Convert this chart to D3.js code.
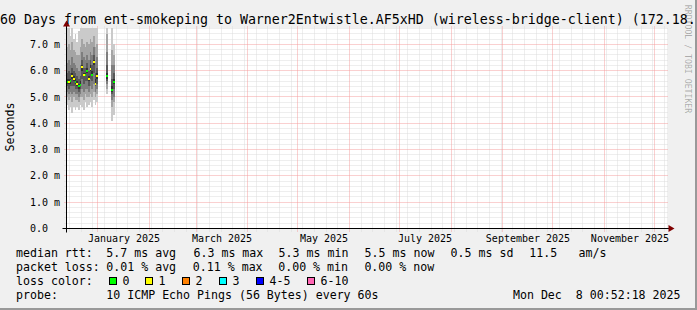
<!DOCTYPE html>
<html>
<head>
<meta charset="utf-8">
<script src="https://cdn.jsdelivr.net/npm/d3@7"></script>
<style>
  html, body { margin: 0; padding: 0; background: #f0f0f0; }
  svg { display: block; font-family: "DejaVu Sans Mono", monospace; }
  text { white-space: pre; }
</style>
</head>
<body>
<svg id="chart" width="697" height="310"></svg>
<script>
// SmokePing 360-day graph, rebuilt with d3

const titleText = '60 Days from ent-smokeping to Warner2Entwistle.AF5xHD (wireless-bridge-client) (172.18.';
const yTitle = 'Seconds';
const watermark = 'RRDTOOL / TOBI OETIKER';

// daily consolidated values (ms)
const days = [
  '2024-12-13', '2024-12-14', '2024-12-15', '2024-12-16', '2024-12-17', '2024-12-18',
  '2024-12-19', '2024-12-20', '2024-12-21', '2024-12-22', '2024-12-23', '2024-12-24',
  '2024-12-25', '2024-12-26', '2024-12-27', '2024-12-28', '2024-12-29', '2024-12-30',
  '2024-12-31', '2025-01-06', '2025-01-09', '2025-01-10'
];
const medians = [
  5.58, 5.56, 5.59, 5.78, 5.70, 5.56, 5.50, 5.41, 5.46, 6.13, 5.84,
  5.82, 6.00, 5.69, 6.07, 5.85, 6.33, 5.50, 5.78, 5.78, 5.28, 5.56
];
// index into lossLabels
const lossBin = [0, 1, 0, 1, 1, 0, 1, 0, 0, 1, 1, 0, 0, 1, 1, 0, 1, 1, 1, 0, 0, 0];
// 10 sorted pings per day
const pings = [
  [4.7, 5.0, 5.2, 5.4, 5.5, 5.7, 5.9, 6.3, 6.9, 8.0],
  [4.5, 4.9, 5.1, 5.3, 5.5, 5.7, 6.0, 6.4, 7.0, 7.9],
  [4.6, 5.0, 5.2, 5.4, 5.5, 5.7, 5.9, 6.2, 6.8, 7.3],
  [4.4, 4.8, 5.1, 5.4, 5.7, 5.9, 6.1, 6.5, 7.1, 8.1],
  [4.6, 5.0, 5.2, 5.4, 5.6, 5.8, 6.0, 6.3, 6.8, 7.2],
  [4.5, 4.9, 5.1, 5.3, 5.5, 5.7, 5.9, 6.2, 6.7, 7.4],
  [4.6, 4.9, 5.1, 5.3, 5.4, 5.6, 5.8, 6.1, 6.6, 7.1],
  [4.5, 4.8, 5.0, 5.2, 5.3, 5.5, 5.7, 6.0, 6.6, 7.5],
  [4.7, 5.0, 5.1, 5.3, 5.4, 5.6, 5.8, 6.2, 6.9, 8.0],
  [4.6, 5.0, 5.3, 5.7, 6.0, 6.2, 6.4, 6.7, 7.2, 8.2],
  [4.5, 4.9, 5.2, 5.5, 5.8, 5.9, 6.1, 6.5, 7.0, 7.9],
  [4.8, 5.1, 5.3, 5.6, 5.8, 5.9, 6.1, 6.4, 6.9, 8.1],
  [4.6, 5.0, 5.3, 5.6, 5.9, 6.1, 6.3, 6.6, 7.1, 8.3],
  [4.7, 5.0, 5.2, 5.4, 5.6, 5.8, 6.0, 6.4, 7.0, 8.0],
  [4.8, 5.1, 5.4, 5.7, 6.0, 6.2, 6.4, 6.7, 7.2, 8.2],
  [4.6, 5.0, 5.3, 5.6, 5.8, 6.0, 6.2, 6.6, 7.1, 8.0],
  [4.9, 5.2, 5.5, 5.9, 6.2, 6.4, 6.6, 6.9, 7.3, 8.4],
  [4.7, 5.0, 5.2, 5.4, 5.5, 5.7, 5.9, 6.3, 6.9, 8.1],
  [4.8, 5.1, 5.3, 5.5, 5.7, 5.9, 6.1, 6.5, 7.0, 7.8],
  [5.1, 5.3, 5.5, 5.6, 5.7, 5.9, 6.2, 6.7, 7.4, 8.3],
  [4.1, 4.6, 4.9, 5.1, 5.2, 5.4, 5.7, 6.2, 6.8, 7.9],
  [4.3, 4.8, 5.0, 5.3, 5.5, 5.7, 5.9, 6.2, 6.6, 7.0]
];

const lossLabels = ['0', '1', '2', '3', '4-5', '6-10'];
const lossColors = ['#00ff00', '#ffff00', '#ff8000', '#00ffff', '#0000ff', '#ff66b4'];
const smokeGreys = ['#cacaca', '#a4a4a4', '#7e7e7e', '#585858', '#323232'];

const rttStats = ['5.7 ms avg', '6.3 ms max', '5.3 ms min', '5.5 ms now', '0.5 ms sd'];
const amStats = ['11.5', 'am/s'];
const lossStats = ['0.01 % avg', '0.11 % max', '0.00 % min', '0.00 % now'];
const probeText = '10 ICMP Echo Pings (56 Bytes) every 60s';
const stampText = 'Mon Dec  8 00:52:18 2025';

// ---- layout
const W = 697, H = 310;
const X0 = 66.5, X1 = 666.5, Y0 = 228.5, Y1 = 28.5;
const t0 = new Date(2024, 11, 13, 4);
const t1 = d3.timeDay.offset(t0, 360);

const x = d3.scaleTime().domain([t0, t1]).range([X0, X1]);
const y = d3.scaleLinear().domain([0, 7.6]).range([Y0, Y1]);
const px = v => Math.floor(v) + 0.5;

const GRID = '#dcdcdc';
const MGRID = '#f5a0a0';

const svg = d3.select('#chart');
svg.append('rect').attr('width', W).attr('height', H).attr('fill', '#f0f0f0');
// 3d frame, bottom/right
svg.append('rect').attr('x', 0).attr('y', H - 2).attr('width', W).attr('height', 2).attr('fill', '#999');
svg.append('rect').attr('x', W - 2).attr('y', 0).attr('width', 2).attr('height', H).attr('fill', '#999');

// canvas
svg.append('rect')
  .attr('x', 67).attr('y', 28).attr('width', 600).attr('height', 200)
  .attr('fill', '#fff');

// ---- grid
const grid = svg.append('g').attr('stroke-width', 1).attr('fill', 'none');

const yMinor = y.ticks(38).filter(v => Math.abs(v - Math.round(v)) > 1e-6);
const yMajor = y.ticks(8).filter(v => v > 0);
const months = d3.timeMonth.range(t0, t1);
const weeks = d3.timeSunday.range(t0, t1).filter(d => d.getDate() !== 1);

const hline = (v, col) => grid.append('line')
  .attr('x1', X0 - 2).attr('x2', X1 + 2)
  .attr('y1', px(y(v))).attr('y2', px(y(v)))
  .attr('stroke', col).attr('stroke-dasharray', '1 1');
const vline = (t, col) => grid.append('line')
  .attr('x1', px(x(t))).attr('x2', px(x(t)))
  .attr('y1', Y1 - 2).attr('y2', Y0 + 3)
  .attr('stroke', col).attr('stroke-dasharray', '1 1');

yMinor.forEach(v => hline(v, GRID));
weeks.forEach(t => vline(t, GRID));
yMajor.forEach(v => hline(v, MGRID));
months.forEach(t => vline(t, MGRID));

// ---- smoke + median
svg.append('clipPath').attr('id', 'plot')
  .append('rect').attr('x', 67).attr('y', 28).attr('width', 600).attr('height', 200);

const parse = d3.timeParse('%Y-%m-%d');
const points = days.map((d, i) => ({
  t: parse(d), med: medians[i], loss: lossBin[i], p: pings[i]
}));

const plot = svg.append('g').attr('clip-path', 'url(#plot)').attr('shape-rendering', 'crispEdges');

const smoke = [];
points.forEach(pt => {
  smokeGreys.forEach((c, b) => smoke.push({ t: pt.t, lo: pt.p[b], hi: pt.p[9 - b], color: c }));
});

plot.selectAll('rect.smoke').data(smoke).join('rect')
  .attr('class', 'smoke')
  .attr('x', d => x(d.t))
  .attr('width', d => x(d3.timeDay.offset(d.t, 1)) - x(d.t))
  .attr('y', d => y(d.hi))
  .attr('height', d => y(d.lo) - y(d.hi))
  .attr('fill', d => d.color);

const sw = 7.6 / 200;
plot.selectAll('rect.med').data(points).join('rect')
  .attr('class', 'med')
  .attr('x', d => x(d.t))
  .attr('width', d => x(d3.timeDay.offset(d.t, 1)) - x(d.t))
  .attr('y', d => y(d.med + sw))
  .attr('height', d => y(d.med - sw) - y(d.med + sw))
  .attr('fill', d => lossColors[d.loss]);

// ---- axes
const axis = svg.append('g').attr('stroke', '#000').attr('stroke-width', 1);
axis.append('line').attr('x1', X0 - 4).attr('x2', X1 + 4).attr('y1', Y0).attr('y2', Y0);
axis.append('line').attr('x1', X0).attr('x2', X0).attr('y1', Y0 + 4).attr('y2', Y1 - 4);
svg.append('path')
  .attr('d', `M${X1 + 2},${Y0 - 3.5}L${X1 + 2},${Y0 + 3.5}L${X1 + 8},${Y0}Z`)
  .attr('fill', '#800000');
svg.append('path')
  .attr('d', `M${X0 - 3.5},${Y1 - 2}L${X0 + 3.5},${Y1 - 2}L${X0},${Y1 - 8}Z`)
  .attr('fill', '#800000');

// y labels
svg.selectAll('text.ylab').data(y.ticks(8)).join('text')
  .attr('class', 'ylab')
  .attr('x', 30).attr('y', d => Math.round(y(d) + 3.6))
  .attr('font-size', 10).attr('fill', '#000')
  .text(d => d === 0 ? '0.0' : d.toFixed(1) + ' m');

// x labels, centred on the month
const labelMonths = d3.timeMonth.every(2).range(t0, t1);
const fmt = d3.timeFormat('%B %Y');
svg.selectAll('text.xlab').data(labelMonths).join('text')
  .attr('class', 'xlab')
  .attr('x', d => Math.round((x(d) + x(d3.timeMonth.offset(d, 1))) / 2))
  .attr('y', 242)
  .attr('text-anchor', 'middle')
  .attr('font-size', 10).attr('fill', '#000')
  .text(d => fmt(d));

// titles
svg.append('text').attr('x', 0).attr('y', 24)
  .attr('font-size', 13.29).attr('fill', '#000')
  .text(titleText);
svg.append('text')
  .attr('transform', 'translate(14,127) rotate(-90)')
  .attr('text-anchor', 'middle')
  .attr('font-size', 11.6).attr('fill', '#000')
  .text(yTitle);
svg.append('text')
  .attr('transform', 'translate(685,59) rotate(90)')
  .attr('text-anchor', 'middle')
  .attr('font-size', 8.2).attr('fill', '#000').attr('fill-opacity', 0.3)
  .text(watermark);

// ---- legend
const LF = 11.6;
const rows = [257, 271, 285, 299];
const legend = svg.append('g').attr('font-size', LF).attr('fill', '#000');
const put = (tx, xx, yy, anchor) => legend.append('text')
  .attr('x', xx).attr('y', yy).attr('text-anchor', anchor || 'start').text(tx);

put('median rtt:', 16, rows[0]);
[106.3, 193.5, 278.6, 364.6, 450.6].forEach((xx, i) => put(rttStats[i], xx, rows[0]));
[529.3, 578.6].forEach((xx, i) => put(amStats[i], xx, rows[0]));

put('packet loss:', 16, rows[1]);
[106.3, 192.8, 278.2, 364.4].forEach((xx, i) => put(lossStats[i], xx, rows[1]));

put('loss color:', 16, rows[2]);
const boxX = [109, 145, 182, 219, 256, 307];
legend.selectAll('rect.box').data(lossLabels).join('rect')
  .attr('class', 'box')
  .attr('x', (d, i) => boxX[i] + 0.5).attr('y', 277.5)
  .attr('width', 7).attr('height', 7)
  .attr('fill', (d, i) => lossColors[i])
  .attr('stroke', '#000');
lossLabels.forEach((l, i) => put(l, boxX[i] + 13.5, rows[2]));

put('probe:', 16, rows[3]);
put(probeText, 106.3, rows[3]);
put(stampText, 680.5, rows[3], 'end');
</script>
</body>
</html>
